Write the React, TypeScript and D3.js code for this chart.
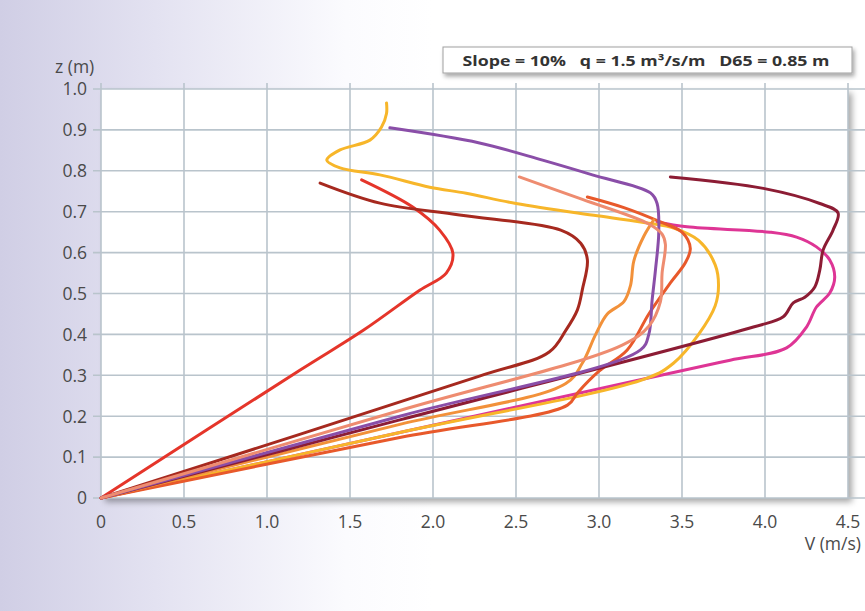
import React from "react";
import * as d3 from "d3";

type Pt = [number, number];

const xTicks = [0, 0.5, 1.0, 1.5, 2.0, 2.5, 3.0, 3.5, 4.0, 4.5];
const xTickLabels = ["0", "0.5", "1.0", "1.5", "2.0", "2.5", "3.0", "3.5", "4.0", "4.5"];
const yTicks = [0, 0.1, 0.2, 0.3, 0.4, 0.5, 0.6, 0.7, 0.8, 0.9, 1.0];
const yTickLabels = ["0", "0.1", "0.2", "0.3", "0.4", "0.5", "0.6", "0.7", "0.8", "0.9", "1.0"];

const titleText = "Slope = 10%   q = 1.5 m³/s/m   D65 = 0.85 m";
const xLabel = "V (m/s)";
const yLabel = "z (m)";

const redSeries: Pt[] = [[0, 0], [1.2, 0.313], [1.58, 0.41], [1.92, 0.508], [2.08, 0.55], [2.12, 0.598], [2.04, 0.655], [1.88, 0.711], [1.57, 0.778]];
const brownSeries: Pt[] = [[0, 0], [2.28, 0.298], [2.7, 0.357], [2.8, 0.41], [2.87, 0.46], [2.9, 0.51], [2.93, 0.582], [2.89, 0.623], [2.77, 0.655], [2.16, 0.692], [1.68, 0.721], [1.32, 0.77]];
const magentaSeries: Pt[] = [[0, 0], [1.8, 0.16], [3.29, 0.293], [3.79, 0.337], [4.13, 0.367], [4.25, 0.418], [4.31, 0.467], [4.39, 0.501], [4.42, 0.54], [4.39, 0.582], [4.31, 0.614], [4.19, 0.638], [4.03, 0.65], [3.53, 0.663], [3.35, 0.675]];
const yellowSeries: Pt[] = [[0, 0], [1.8, 0.16], [3.29, 0.293], [3.45, 0.33], [3.6, 0.4], [3.7, 0.47], [3.72, 0.52], [3.7, 0.57], [3.6, 0.63], [3.45, 0.66], [3.3, 0.672], [2.99, 0.69], [2.5, 0.72], [2.2, 0.745], [1.98, 0.76], [1.68, 0.79], [1.44, 0.807], [1.36, 0.826], [1.44, 0.851], [1.62, 0.875], [1.69, 0.907], [1.72, 0.94], [1.72, 0.966]];
const purpleSeries: Pt[] = [[0, 0], [1.8, 0.2], [3.25, 0.362], [3.3, 0.4], [3.32, 0.484], [3.34, 0.557], [3.36, 0.65], [3.35, 0.72], [3.31, 0.746], [2.96, 0.79], [2.66, 0.826], [2.28, 0.868], [1.74, 0.905]];
const salmonSeries: Pt[] = [[0, 0], [1.8, 0.214], [3.14, 0.374], [3.3, 0.42], [3.37, 0.48], [3.38, 0.55], [3.4, 0.62], [3.38, 0.645], [3.3, 0.67], [2.9, 0.73], [2.52, 0.785]];
const orangeSeries: Pt[] = [[0, 0], [1.8, 0.18], [2.8, 0.28], [2.9, 0.33], [2.98, 0.4], [3.05, 0.45], [3.15, 0.48], [3.19, 0.52], [3.21, 0.58], [3.27, 0.64], [3.33, 0.68]];
const orangeRedSeries: Pt[] = [[0, 0], [1.8, 0.148], [2.81, 0.227], [2.87, 0.257], [3.0, 0.31], [3.17, 0.362], [3.3, 0.45], [3.43, 0.526], [3.52, 0.575], [3.55, 0.61], [3.5, 0.65], [3.37, 0.675], [3.15, 0.71], [2.93, 0.736]];
const maroonSeries: Pt[] = [[0, 0], [1.8, 0.191], [3.93, 0.418], [4.11, 0.443], [4.17, 0.477], [4.24, 0.491], [4.3, 0.516], [4.33, 0.557], [4.35, 0.606], [4.41, 0.655], [4.44, 0.697], [4.33, 0.72], [3.99, 0.757], [3.43, 0.785]];

const seriesList: Pt[][] = [redSeries, brownSeries, magentaSeries, yellowSeries, orangeRedSeries, orangeSeries, maroonSeries, purpleSeries, salmonSeries];
const seriesColors = ["#e5352a", "#a6291f", "#de3595", "#f7b62a", "#e8592b", "#f2913a", "#8c1c34", "#8a4ea8", "#ee8c70"];

export default function App() {
  const W = 865, H = 611;
  const x = d3.scaleLinear().domain([0, 4.5]).range([101, 848]);
  const y = d3.scaleLinear().domain([0, 1]).range([498, 89]);
  const line = d3.line<Pt>().x(d => x(d[0])).y(d => y(d[1])).curve(d3.curveCatmullRom.alpha(0.5));
  const font = "'Open Sans', 'Noto Sans', sans-serif";
  const gridColor = "#b9c4cc";
  const fs = 17.5;

  return (
    <svg width={W} height={H} style={{ position: "absolute", left: 0, top: 0 }} fontFamily={font}>
      <defs>
        <linearGradient id="bg" x1="0" y1="0" x2="1" y2="0">
          <stop offset="0" stopColor="#d0cee5" />
          <stop offset="0.18" stopColor="#e3e2f1" />
          <stop offset="0.4" stopColor="#fbfbfe" />
          <stop offset="0.5" stopColor="#ffffff" />
          <stop offset="1" stopColor="#ffffff" />
        </linearGradient>
        <filter id="shadow" x="-5%" y="-5%" width="115%" height="115%">
          <feDropShadow dx="4" dy="4" stdDeviation="3" floodColor="#000" floodOpacity="0.35" />
        </filter>
        <filter id="shadow2" x="-5%" y="-30%" width="115%" height="180%">
          <feDropShadow dx="2" dy="3" stdDeviation="2" floodColor="#000" floodOpacity="0.35" />
        </filter>
      </defs>
      <rect x={0} y={0} width={W} height={H} fill="url(#bg)" />
      <rect x={x(0)} y={y(1)} width={x(4.5) - x(0)} height={y(0) - y(1)} fill="#fff" filter="url(#shadow)" />
      {yTicks.map((t, i) => (
        <line key={"h" + i} x1={93} x2={W} y1={y(t)} y2={y(t)} stroke={gridColor} strokeWidth={1.6} />
      ))}
      {xTicks.map((t, i) => (
        <line key={"v" + i} x1={x(t)} x2={x(t)} y1={83} y2={y(0)} stroke={gridColor} strokeWidth={1.6} />
      ))}
      {seriesList.map((s, i) => (
        <path key={"s" + i} d={line(s) || ""} fill="none" stroke={seriesColors[i]} strokeWidth={3} strokeLinejoin="round" strokeLinecap="round" />
      ))}
      {yTicks.map((t, i) => (
        <text key={"yl" + i} x={87} y={y(t)} dy="0.36em" textAnchor="end" fontSize={fs} fill="#4a4a4a">{yTickLabels[i]}</text>
      ))}
      {xTicks.map((t, i) => (
        <text key={"xl" + i} x={x(t)} y={528} textAnchor="middle" fontSize={fs} fill="#4a4a4a">{xTickLabels[i]}</text>
      ))}
      <text x={55} y={73} fontSize={fs} fill="#4a4a4a">{yLabel}</text>
      <text x={861} y={550} textAnchor="end" fontSize={fs} fill="#4a4a4a">{xLabel}</text>
      <rect x={443} y={47} width={409} height={26} fill="#fff" stroke="#a0a0a0" strokeWidth={1} filter="url(#shadow2)" />
      <text x={646} y={66} textAnchor="middle" fontSize={15} fontWeight={700} fill="#333" textLength={367} lengthAdjust="spacingAndGlyphs" xmlSpace="preserve">{titleText}</text>
    </svg>
  );
}
